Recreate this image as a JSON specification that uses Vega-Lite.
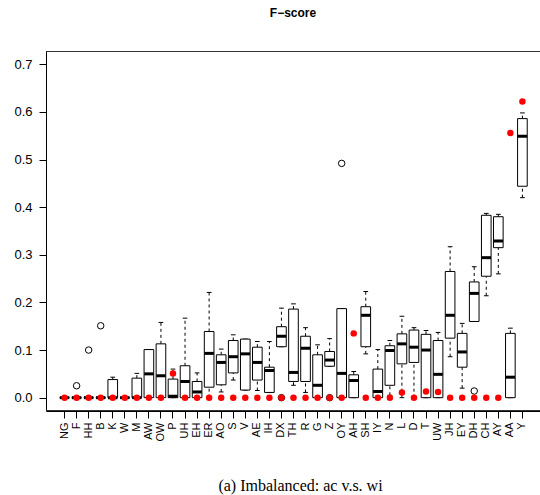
{
  "$schema": "https://vega.github.io/schema/vega-lite/v6.json",
  "width": 494,
  "height": 360,
  "autosize": {"type": "none"},
  "padding": {"left": 46, "top": 51, "right": 0, "bottom": 84},
  "background": "white",
  "title": {"text": "F−score", "fontSize": 12, "fontWeight": "bold", "font": "Liberation Sans", "offset": 31, "anchor": "middle", "color": "black"},
  "config": {
    "view": {"stroke": null},
    "font": "Liberation Sans",
    "axis": {"grid": false, "domain": true, "domainWidth": 1, "domainColor": "black", "tickColor": "black", "labelColor": "black", "labelFontSize": 11, "tickSize": 7, "labelFont": "Liberation Sans"},
    "axisY": {"values": [0, 0.1, 0.2, 0.3, 0.4, 0.5, 0.6, 0.7], "format": ".1f", "labelPadding": 7, "labelFontSize": 13},
    "axisX": {"titleFont": "Liberation Serif", "titleFontSize": 16, "titleFontWeight": "normal", "titleColor": "black", "titleY": 79, "titleX": 254, "titleBaseline": "alphabetic", "titleAnchor": "middle", "labelAngle": -90, "labelPadding": 4, "labelFontSize": 11}
  },
  "data": {"values": [
    {"ph": "NG", "q1": 0, "med": 0, "q3": 0, "lo": 0, "hi": 0, "dot": 0},
    {"ph": "F", "q1": 0, "med": 0, "q3": 0, "lo": 0, "hi": 0, "dot": 0},
    {"ph": "HH", "q1": 0, "med": 0, "q3": 0, "lo": 0, "hi": 0, "dot": 0},
    {"ph": "B", "q1": 0, "med": 0, "q3": 0, "lo": 0, "hi": 0, "dot": 0},
    {"ph": "K", "q1": 0, "med": 0, "q3": 0.038, "lo": 0, "hi": 0.043, "dot": 0},
    {"ph": "W", "q1": 0, "med": 0, "q3": 0, "lo": 0, "hi": 0, "dot": 0},
    {"ph": "M", "q1": 0, "med": 0, "q3": 0.041, "lo": 0, "hi": 0.051, "dot": 0},
    {"ph": "AW", "q1": 0, "med": 0.05, "q3": 0.101, "lo": 0, "hi": 0.101, "dot": 0},
    {"ph": "OW", "q1": 0, "med": 0.046, "q3": 0.113, "lo": 0, "hi": 0.158, "dot": 0},
    {"ph": "P", "q1": 0, "med": 0.003, "q3": 0.039, "lo": 0, "hi": 0.06, "dot": 0.051},
    {"ph": "UH", "q1": 0, "med": 0.034, "q3": 0.067, "lo": 0, "hi": 0.167, "dot": 0},
    {"ph": "EH", "q1": 0, "med": 0.012, "q3": 0.034, "lo": 0, "hi": 0.052, "dot": 0},
    {"ph": "ER", "q1": 0.022, "med": 0.093, "q3": 0.139, "lo": 0, "hi": 0.221, "dot": 0},
    {"ph": "AO", "q1": 0.027, "med": 0.074, "q3": 0.09, "lo": 0.012, "hi": 0.102, "dot": 0},
    {"ph": "S", "q1": 0.052, "med": 0.086, "q3": 0.12, "lo": 0.037, "hi": 0.132, "dot": 0},
    {"ph": "V", "q1": 0.016, "med": 0.092, "q3": 0.123, "lo": 0.016, "hi": 0.123, "dot": 0},
    {"ph": "AE", "q1": 0.037, "med": 0.074, "q3": 0.106, "lo": 0.015, "hi": 0.118, "dot": 0},
    {"ph": "IH", "q1": 0.011, "med": 0.057, "q3": 0.064, "lo": 0.011, "hi": 0.118, "dot": 0},
    {"ph": "DX", "q1": 0.107, "med": 0.129, "q3": 0.149, "lo": 0.107, "hi": 0.188, "dot": 0},
    {"ph": "TH", "q1": 0.034, "med": 0.053, "q3": 0.186, "lo": 0.026, "hi": 0.197, "dot": 0},
    {"ph": "R", "q1": 0.034, "med": 0.104, "q3": 0.129, "lo": 0.011, "hi": 0.147, "dot": 0},
    {"ph": "G", "q1": 0, "med": 0.026, "q3": 0.09, "lo": 0, "hi": 0.111, "dot": 0},
    {"ph": "Z", "q1": 0.066, "med": 0.079, "q3": 0.097, "lo": 0.066, "hi": 0.124, "dot": 0},
    {"ph": "OY", "q1": 0, "med": 0.051, "q3": 0.187, "lo": 0, "hi": 0.187, "dot": 0},
    {"ph": "AH", "q1": 0, "med": 0.036, "q3": 0.048, "lo": 0, "hi": 0.055, "dot": 0.135},
    {"ph": "SH", "q1": 0.107, "med": 0.173, "q3": 0.191, "lo": 0.092, "hi": 0.223, "dot": 0},
    {"ph": "IY", "q1": 0, "med": 0.013, "q3": 0.06, "lo": 0, "hi": 0.101, "dot": 0},
    {"ph": "N", "q1": 0.026, "med": 0.099, "q3": 0.109, "lo": 0.005, "hi": 0.12, "dot": 0},
    {"ph": "L", "q1": 0.071, "med": 0.113, "q3": 0.134, "lo": 0, "hi": 0.171, "dot": 0.011},
    {"ph": "D", "q1": 0.074, "med": 0.106, "q3": 0.142, "lo": 0, "hi": 0.147, "dot": 0},
    {"ph": "T", "q1": 0, "med": 0.1, "q3": 0.133, "lo": 0, "hi": 0.141, "dot": 0.013},
    {"ph": "UW", "q1": 0, "med": 0.049, "q3": 0.12, "lo": 0, "hi": 0.137, "dot": 0.012},
    {"ph": "JH", "q1": 0.125, "med": 0.173, "q3": 0.265, "lo": 0.086, "hi": 0.317, "dot": 0},
    {"ph": "EY", "q1": 0.064, "med": 0.096, "q3": 0.135, "lo": 0.02, "hi": 0.156, "dot": 0},
    {"ph": "DH", "q1": 0.16, "med": 0.219, "q3": 0.243, "lo": 0.16, "hi": 0.275, "dot": 0},
    {"ph": "CH", "q1": 0.255, "med": 0.294, "q3": 0.383, "lo": 0.214, "hi": 0.387, "dot": 0},
    {"ph": "AY", "q1": 0.315, "med": 0.329, "q3": 0.38, "lo": 0.26, "hi": 0.385, "dot": 0},
    {"ph": "AA", "q1": 0, "med": 0.043, "q3": 0.135, "lo": 0, "hi": 0.146, "dot": 0.556},
    {"ph": "Y", "q1": 0.444, "med": 0.549, "q3": 0.586, "lo": 0.42, "hi": 0.598, "dot": 0.622}
  ]},
  "layer": [
    {
      "mark": {"type": "rule", "color": "black", "strokeWidth": 1, "strokeDash": [3, 3]},
      "encoding": {
        "x": {"field": "ph", "type": "nominal", "sort": null, "title": "(a) Imbalanced: ac v.s. wi", "scale": {"domain": ["NG","F","HH","B","K","W","M","AW","OW","P","UH","EH","ER","AO","S","V","AE","IH","DX","TH","R","G","Z","OY","AH","SH","IY","N","L","D","T","UW","JH","EY","DH","CH","AY","AA","Y"], "paddingInner": 0, "paddingOuter": 1.53, "align": 0.52}},
        "y": {"field": "lo", "type": "quantitative", "title": null, "scale": {"domain": [-0.028, 0.728], "nice": false, "zero": false}},
        "y2": {"field": "q1"}
      }
    },
    {
      "mark": {"type": "rule", "color": "black", "strokeWidth": 1, "strokeDash": [3, 3]},
      "encoding": {
        "x": {"field": "ph", "type": "nominal", "sort": null, "title": "(a) Imbalanced: ac v.s. wi"},
        "y": {"field": "q3", "type": "quantitative", "title": null},
        "y2": {"field": "hi"}
      }
    },
    {
      "mark": {"type": "tick", "color": "black", "thickness": 1, "size": 4.7, "orient": "horizontal", "opacity": 1},
      "encoding": {
        "x": {"field": "ph", "type": "nominal", "sort": null, "title": "(a) Imbalanced: ac v.s. wi"},
        "y": {"field": "lo", "type": "quantitative", "title": null}
      }
    },
    {
      "mark": {"type": "tick", "color": "black", "thickness": 1, "size": 4.7, "orient": "horizontal", "opacity": 1},
      "encoding": {
        "x": {"field": "ph", "type": "nominal", "sort": null, "title": "(a) Imbalanced: ac v.s. wi"},
        "y": {"field": "hi", "type": "quantitative", "title": null}
      }
    },
    {
      "mark": {"type": "bar", "fill": "white", "stroke": "black", "strokeWidth": 1, "width": {"band": 0.8}},
      "encoding": {
        "x": {"field": "ph", "type": "nominal", "sort": null, "title": "(a) Imbalanced: ac v.s. wi"},
        "y": {"field": "q1", "type": "quantitative", "title": null},
        "y2": {"field": "q3"}
      }
    },
    {
      "mark": {"type": "tick", "color": "black", "thickness": 3, "size": 9.4, "orient": "horizontal", "opacity": 1},
      "encoding": {
        "x": {"field": "ph", "type": "nominal", "sort": null, "title": "(a) Imbalanced: ac v.s. wi"},
        "y": {"field": "med", "type": "quantitative", "title": null}
      }
    },
    {
      "data": {"values": [
        {"ph": "F", "v": 0.025},
        {"ph": "HH", "v": 0.1},
        {"ph": "B", "v": 0.151},
        {"ph": "DX", "v": 0},
        {"ph": "Z", "v": 0},
        {"ph": "OY", "v": 0.492},
        {"ph": "DH", "v": 0.014}
      ]},
      "mark": {"type": "point", "shape": "circle", "filled": false, "stroke": "black", "strokeWidth": 1, "size": 42, "opacity": 1},
      "encoding": {
        "x": {"field": "ph", "type": "nominal", "sort": null, "title": "(a) Imbalanced: ac v.s. wi"},
        "y": {"field": "v", "type": "quantitative", "title": null}
      }
    },
    {
      "mark": {"type": "point", "shape": "circle", "filled": true, "color": "#ff0000", "size": 42, "opacity": 1, "strokeWidth": 0},
      "encoding": {
        "x": {"field": "ph", "type": "nominal", "sort": null, "title": "(a) Imbalanced: ac v.s. wi"},
        "y": {"field": "dot", "type": "quantitative", "title": null}
      }
    },
    {
      "mark": {"type": "rule", "color": "#333333", "strokeWidth": 1},
      "encoding": {"y": {"datum": 0.72695, "type": "quantitative", "title": null}}
    },
    {
      "mark": {"type": "rule", "color": "#333333", "strokeWidth": 1},
      "encoding": {"y": {"datum": -0.02695, "type": "quantitative", "title": null}}
    }
  ]
}
